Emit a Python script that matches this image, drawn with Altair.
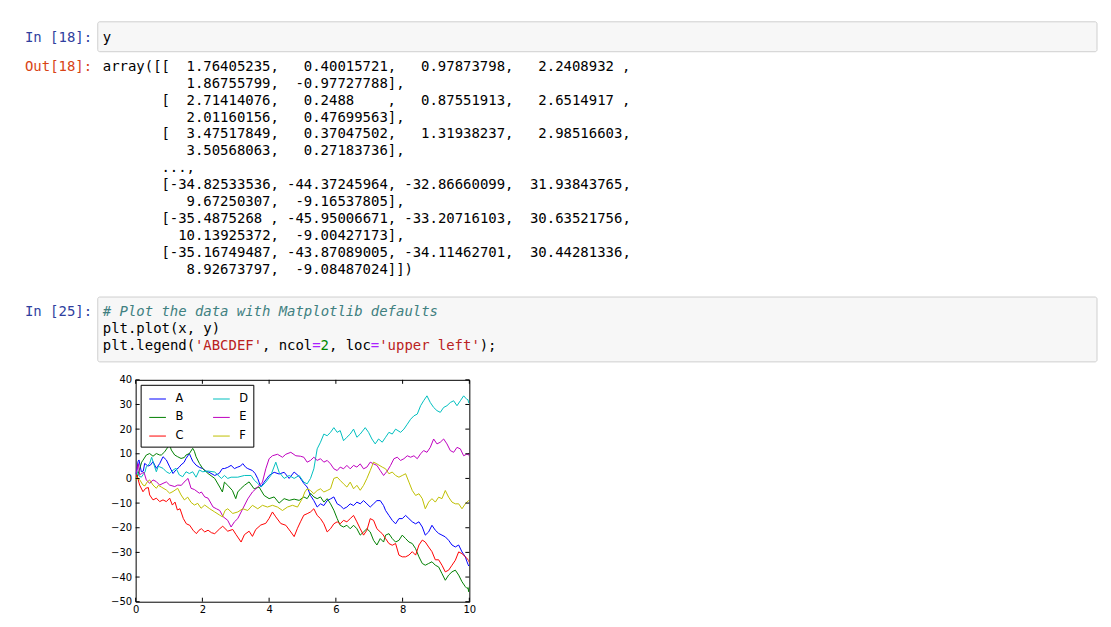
import re
import altair as alt
import pandas as pd

# ---------------- line chart data ----------------
series_names = ["A", "B", "C", "D", "E", "F"]
series_colors = ["#0000ff", "#008000", "#ff0000", "#00bfbf", "#bf00bf", "#bfbf00"]

A_x = [0.00, 0.02, 0.04, 0.07, 0.10, 0.17, 0.23, 0.27, 0.37, 0.45, 0.52, 0.62, 0.72, 0.82, 0.92, 1.02, 1.12, 1.21, 1.30, 1.36,
       1.45, 1.51, 1.61, 1.66, 1.71, 1.81, 1.91, 2.01, 2.10, 2.20, 2.37, 2.50, 2.60, 2.66, 2.76, 2.86, 2.96, 3.06, 3.14, 3.21,
       3.30, 3.36, 3.50, 3.58, 3.66, 3.75, 3.85, 4.00, 4.15, 4.30, 4.45, 4.60, 4.75, 4.90, 5.04, 5.14, 5.24, 5.34, 5.44, 5.54,
       5.64, 5.74, 5.84, 5.94, 6.04, 6.13, 6.23, 6.33, 6.43, 6.53, 6.63, 6.73, 6.83, 6.93, 7.03, 7.13, 7.23, 7.33, 7.43, 7.49,
       7.59, 7.69, 7.79, 7.89, 7.99, 8.09, 8.19, 8.29, 8.39, 8.49, 8.59, 8.68, 8.78, 8.88, 8.98, 9.08, 9.18, 9.28, 9.38, 9.48,
       9.58, 9.68, 9.78, 9.88, 9.93, 9.96, 9.98, 10.0]
A_y = [1.76, 2.71, 3.48, 6.8, 7.5, 2.7, 3.0, 6.1, 5.0, 5.5, 6.8, 4.1, 6.0, 8.8, 7.5, 4.7, 2.0, 3.5, 4.5, 5.5,
       6.5, 8.1, 10.1, 8.5, 7.0, 5.4, 4.5, 4.0, 3.0, 2.5, 1.2, 2.0, 4.0, 4.0, 4.5, 5.3, 4.0, 4.6, 5.0, 6.0,
       4.5, 4.0, 3.2, 2.0, -0.1, -3.5, -1.5, 1.2, 2.5, 1.8, 2.5, 0.0, 2.6, 0.8, -2.0, -3.5, -6.9, -9.0, -11.6, -10.3,
       -11.0, -9.0, -8.3, -7.5, -10.3, -11.0, -12.3, -11.6, -10.3, -11.0, -9.6, -10.3, -9.0, -10.3, -11.6, -10.3, -9.0, -9.0, -11.0, -13.0,
       -15.0, -17.0, -18.4, -16.3, -16.3, -15.0, -16.3, -17.6, -18.4, -17.6, -19.7, -23.0, -21.7, -19.0, -21.0, -22.3, -23.0, -23.7, -25.1, -27.0,
       -27.8, -27.0, -29.8, -31.8, -33.8, -34.83, -35.49, -35.17]

B_x = [0.00, 0.02, 0.04, 0.10, 0.18, 0.22, 0.32, 0.42, 0.52, 0.62, 0.72, 0.77, 0.87, 0.97, 1.02, 1.07, 1.17, 1.26, 1.36, 1.46,
       1.51, 1.61, 1.71, 1.76, 1.81, 1.91, 2.01, 2.17, 2.37, 2.52, 2.60, 2.66, 2.76, 2.90, 3.00, 3.06, 3.16, 3.26, 3.40, 3.55,
       3.70, 3.85, 4.00, 4.15, 4.30, 4.45, 4.60, 4.75, 4.90, 5.04, 5.14, 5.24, 5.34, 5.44, 5.54, 5.64, 5.74, 5.84, 5.94, 6.04,
       6.13, 6.23, 6.33, 6.43, 6.53, 6.63, 6.73, 6.83, 6.93, 7.03, 7.13, 7.23, 7.33, 7.43, 7.49, 7.59, 7.69, 7.79, 7.89, 7.99,
       8.09, 8.19, 8.29, 8.39, 8.49, 8.59, 8.68, 8.78, 8.88, 8.98, 9.08, 9.18, 9.28, 9.38, 9.48, 9.58, 9.68, 9.78, 9.88, 9.93,
       9.96, 9.98, 10.0]
B_y = [0.40, 0.25, 0.37, 3.0, 6.6, 7.4, 9.5, 10.1, 9.0, 10.1, 9.5, 9.5, 10.8, 12.8, 13.5, 11.5, 9.5, 8.8, 8.1, 8.5,
       9.5, 10.1, 12.2, 11.0, 8.8, 6.1, 4.0, 2.0, 0.0, -3.5, -5.5, -1.5, -2.8, -4.9, -8.2, -5.5, -4.0, -2.8, -1.4, -4.2,
       -3.5, -6.9, -8.2, -7.5, -10.0, -8.2, -8.9, -8.4, -8.9, -7.5, -8.2, -6.0, -7.5, -8.2, -7.5, -9.6, -8.2, -10.3, -12.9, -16.3,
       -19.0, -19.7, -19.0, -20.4, -19.0, -20.4, -23.0, -21.7, -20.4, -21.7, -25.1, -27.0, -24.4, -25.8, -23.0, -22.4, -24.4, -25.8, -25.1, -23.0,
       -24.4, -25.8, -26.4, -28.5, -31.8, -34.5, -35.2, -34.5, -33.8, -35.2, -35.9, -38.6, -41.3, -39.2, -37.9, -37.2, -39.2, -41.9, -43.9, -44.6,
       -44.37, -45.95, -43.87]

C_x = [0.00, 0.02, 0.04, 0.12, 0.22, 0.30, 0.38, 0.42, 0.52, 0.58, 0.62, 0.72, 0.82, 0.92, 1.02, 1.10, 1.18, 1.25, 1.33, 1.43,
       1.52, 1.62, 1.72, 1.82, 1.90, 1.97, 2.07, 2.17, 2.27, 2.37, 2.52, 2.61, 2.76, 2.91, 3.01, 3.16, 3.26, 3.40, 3.50, 3.60,
       3.75, 3.90, 4.00, 4.10, 4.20, 4.35, 4.50, 4.65, 4.75, 4.85, 4.94, 5.04, 5.14, 5.24, 5.34, 5.44, 5.54, 5.64, 5.74, 5.84,
       5.94, 6.04, 6.13, 6.23, 6.33, 6.43, 6.53, 6.63, 6.73, 6.83, 6.93, 7.03, 7.13, 7.23, 7.33, 7.39, 7.49, 7.59, 7.69, 7.79,
       7.89, 7.99, 8.09, 8.19, 8.29, 8.39, 8.49, 8.59, 8.68, 8.78, 8.88, 8.98, 9.08, 9.18, 9.28, 9.38, 9.48, 9.58, 9.68, 9.78,
       9.88, 9.96, 9.98, 10.0]
C_y = [0.98, 0.88, 1.32, -2.7, -5.4, -4.0, -3.7, -6.7, -8.7, -8.3, -8.0, -9.4, -8.7, -9.4, -8.0, -10.8, -9.6, -12.8, -12.3, -16.3,
       -18.4, -19.0, -21.0, -22.4, -21.0, -20.4, -21.7, -21.0, -22.0, -22.4, -20.4, -19.4, -21.4, -20.7, -22.8, -25.8, -22.8, -21.4, -23.5, -20.7,
       -18.9, -18.2, -16.2, -13.6, -15.6, -18.3, -19.0, -21.7, -23.6, -20.2, -17.6, -14.9, -14.3, -13.6, -12.3, -15.0, -16.3, -18.4, -21.7, -20.4,
       -18.4, -17.6, -18.4, -17.0, -17.6, -16.3, -15.0, -17.6, -20.4, -23.0, -21.0, -16.3, -17.0, -20.4, -21.7, -22.4, -24.4, -26.4, -27.1, -26.4,
       -31.1, -31.8, -31.8, -31.1, -29.7, -31.1, -27.0, -25.0, -25.8, -27.8, -29.7, -33.0, -33.0, -35.2, -37.9, -37.2, -35.2, -33.2, -29.8, -30.5,
       -31.8, -32.87, -33.21, -34.11]

D_x = [0.00, 0.02, 0.04, 0.10, 0.17, 0.22, 0.28, 0.32, 0.42, 0.48, 0.52, 0.62, 0.68, 0.72, 0.82, 0.92, 1.02, 1.12, 1.21, 1.31,
       1.41, 1.51, 1.61, 1.71, 1.81, 1.91, 2.01, 2.17, 2.37, 2.57, 2.66, 2.76, 2.86, 3.06, 3.26, 3.46, 3.56, 3.66, 3.76, 3.90,
       4.05, 4.20, 4.30, 4.45, 4.60, 4.75, 4.90, 5.04, 5.14, 5.24, 5.34, 5.44, 5.54, 5.64, 5.74, 5.84, 5.94, 6.04, 6.13, 6.23,
       6.33, 6.43, 6.53, 6.63, 6.73, 6.88, 6.98, 7.08, 7.18, 7.28, 7.39, 7.49, 7.59, 7.69, 7.79, 7.94, 8.04, 8.14, 8.24, 8.34,
       8.44, 8.54, 8.63, 8.73, 8.83, 8.93, 9.03, 9.13, 9.23, 9.33, 9.43, 9.53, 9.63, 9.73, 9.83, 9.93, 9.96, 9.98, 10.0]
D_y = [2.24, 2.65, 2.99, 1.0, 0.5, 1.5, 2.6, 4.7, 6.1, 8.6, 6.8, 2.7, 5.0, 4.7, 4.1, 2.7, 2.0, 3.4, 4.1, 1.4,
       0.7, 2.7, 2.0, 2.7, 0.5, 3.4, 2.7, 3.0, 2.6, 0.0, 1.2, 0.0, 0.5, 0.5, 1.2, 1.2, -0.8, -2.0, -3.5, -1.5,
       1.2, 6.6, 2.5, 0.0, 1.2, 0.0, 1.2, -1.5, -2.2, 0.0, 3.9, 12.0, 14.7, 18.0, 17.3, 18.7, 20.6, 18.7, 19.4, 15.3,
       16.7, 18.0, 20.0, 16.7, 18.0, 20.6, 18.7, 16.0, 14.0, 16.0, 14.7, 16.7, 18.7, 18.0, 20.0, 18.7, 20.0, 22.0, 24.0, 25.4,
       26.1, 29.5, 31.5, 33.5, 30.8, 28.8, 27.5, 26.8, 28.8, 29.5, 30.8, 31.5, 29.5, 31.5, 33.5, 32.0, 31.94, 30.64, 30.44]

E_x = [0.00, 0.02, 0.04, 0.08, 0.12, 0.18, 0.25, 0.32, 0.42, 0.52, 0.62, 0.72, 0.82, 0.92, 1.02, 1.17, 1.26, 1.37, 1.45, 1.57,
       1.66, 1.76, 1.91, 1.97, 2.07, 2.17, 2.32, 2.42, 2.52, 2.62, 2.76, 2.86, 2.96, 3.06, 3.21, 3.36, 3.50, 3.66, 3.80, 3.90,
       4.00, 4.10, 4.25, 4.40, 4.50, 4.65, 4.80, 4.94, 5.04, 5.14, 5.24, 5.34, 5.44, 5.54, 5.64, 5.74, 5.84, 5.94, 6.04, 6.13,
       6.23, 6.33, 6.43, 6.53, 6.63, 6.73, 6.83, 6.93, 7.03, 7.13, 7.23, 7.33, 7.43, 7.54, 7.64, 7.74, 7.84, 7.94, 8.04, 8.14,
       8.24, 8.34, 8.44, 8.54, 8.63, 8.73, 8.83, 8.93, 9.03, 9.13, 9.23, 9.33, 9.43, 9.53, 9.63, 9.73, 9.83, 9.93, 9.96, 9.98,
       10.0]
E_y = [1.87, 2.01, 3.51, 6.0, 1.5, 2.0, 2.5, -0.6, -2.0, -0.6, -1.3, -2.7, -2.0, -1.4, -2.7, -3.3, -2.7, -2.8, -1.5, 0.0,
       -4.0, -4.5, -6.0, -5.5, -7.5, -8.0, -11.6, -12.3, -13.0, -15.5, -17.0, -19.7, -17.6, -16.3, -12.3, -8.3, -5.5, -3.5, -1.5, 3.9,
       8.0, 9.2, 9.8, 8.6, 9.8, 10.6, 9.2, 9.0, 8.6, 6.6, 7.3, 8.6, 7.3, 8.0, 6.6, 7.3, 5.9, 3.9, 3.2, 4.6,
       3.9, 5.3, 3.9, 5.3, 4.6, 5.9, 3.9, 4.6, 6.6, 5.9, 5.3, 3.2, 1.2, 3.0, 5.3, 8.0, 8.6, 7.3, 8.0, 9.2,
       8.6, 9.2, 8.0, 10.0, 11.3, 10.6, 12.6, 16.0, 14.0, 14.7, 16.0, 14.0, 11.3, 10.6, 12.6, 12.0, 9.2, 9.9, 9.67, 10.14,
       8.93]

F_x = [0.00, 0.02, 0.04, 0.12, 0.22, 0.28, 0.34, 0.42, 0.52, 0.62, 0.68, 0.77, 0.92, 1.02, 1.12, 1.26, 1.36, 1.46, 1.56, 1.66,
       1.76, 1.86, 1.96, 2.07, 2.22, 2.37, 2.52, 2.60, 2.68, 2.76, 2.91, 3.06, 3.21, 3.36, 3.50, 3.66, 3.80, 3.95, 4.10, 4.25,
       4.40, 4.55, 4.70, 4.85, 5.00, 5.07, 5.14, 5.24, 5.34, 5.44, 5.54, 5.64, 5.74, 5.84, 5.94, 6.04, 6.13, 6.23, 6.33, 6.43,
       6.53, 6.63, 6.73, 6.83, 6.93, 7.03, 7.13, 7.23, 7.39, 7.49, 7.59, 7.69, 7.79, 7.89, 7.99, 8.09, 8.19, 8.29, 8.39, 8.49,
       8.59, 8.68, 8.78, 8.88, 8.98, 9.08, 9.18, 9.28, 9.38, 9.48, 9.58, 9.68, 9.78, 9.88, 9.96, 9.98, 10.0]
F_y = [-0.98, 0.48, 0.27, -0.5, -2.7, -3.0, -1.5, -0.6, -2.7, -4.0, -2.8, -3.5, -4.7, -6.0, -5.3, -4.0, -6.7, -8.7, -7.6, -9.7,
       -10.8, -10.1, -12.1, -10.8, -12.3, -13.6, -14.9, -15.6, -13.0, -12.3, -14.2, -13.6, -12.3, -13.0, -10.9, -12.3, -10.9, -11.6, -10.9, -11.6,
       -13.0, -11.6, -10.9, -11.6, -8.0, -5.5, -4.2, -4.9, -6.2, -4.9, -4.2, -5.5, -4.9, -4.2, 0.0, 0.5, -0.8, -2.2, -3.5, -1.5,
       -4.2, -2.8, -4.8, -2.8, 0.0, 3.2, 6.6, 5.9, 4.6, 3.9, 1.9, 2.6, 1.2, 0.5, 1.2, 1.9, -1.5, -4.9, -6.9, -6.2,
       -8.2, -12.3, -9.6, -8.2, -9.6, -7.6, -8.2, -4.9, -7.6, -9.6, -10.3, -10.3, -12.3, -10.3, -9.17, -9.00, -9.08]

x_ticks = [0, 2, 4, 6, 8, 10]
y_ticks = [-50, -40, -30, -20, -10, 0, 10, 20, 30, 40]

# ---------------- notebook text ----------------
in18_prompt = "In [18]:"
in18_code = "y"
out18_prompt = "Out[18]:"
out18_lines = [
    "array([[  1.76405235,   0.40015721,   0.97873798,   2.2408932 ,",
    "          1.86755799,  -0.97727788],",
    "       [  2.71414076,   0.2488    ,   0.87551913,   2.6514917 ,",
    "          2.01160156,   0.47699563],",
    "       [  3.47517849,   0.37047502,   1.31938237,   2.98516603,",
    "          3.50568063,   0.27183736],",
    "       ...,",
    "       [-34.82533536, -44.37245964, -32.86660099,  31.93843765,",
    "          9.67250307,  -9.16537805],",
    "       [-35.4875268 , -45.95006671, -33.20716103,  30.63521756,",
    "         10.13925372,  -9.00427173],",
    "       [-35.16749487, -43.87089005, -34.11462701,  30.44281336,",
    "          8.92673797,  -9.08487024]])",
]
in25_prompt = "In [25]:"
in25_code = [
    [("# Plot the data with Matplotlib defaults", "#408080")],
    [("plt.plot(x, y)", "#000000")],
    [("plt.legend(", "#000000"), ("'ABCDEF'", "#BA2121"), (", ncol", "#000000"), ("=", "#AA22FF"),
     ("2", "#008800"), (", loc", "#000000"), ("=", "#AA22FF"), ("'upper left'", "#BA2121"), (");", "#000000")],
]

# layout constants (pixels inside the notebook panel)
NB_W, NB_H = 1095, 371.5
CW = 8.4            # monospace character advance
PROMPT_X = 14
CODE_X = 92
ROW_H = 17
IN18_Y = 29
OUT18_Y = 58
IN25_Y = 304

tok_rows = []


def add_tokens(text, x0, y, color, italic=False):
    for m in re.finditer(r"\S+", text):
        tok_rows.append(dict(x=x0 + m.start() * CW, y=y, t=m.group(), c=color,
                             it=italic))


add_tokens(in18_prompt, PROMPT_X, IN18_Y, "#303F9F")
add_tokens(in18_code, CODE_X, IN18_Y, "#000000")
add_tokens(out18_prompt, PROMPT_X, OUT18_Y, "#D84315")
for k, line in enumerate(out18_lines):
    add_tokens(line, CODE_X, OUT18_Y + k * ROW_H, "#000000")
add_tokens(in25_prompt, PROMPT_X, IN25_Y, "#303F9F")
for k, segs in enumerate(in25_code):
    col = 0
    for text, color in segs:
        add_tokens(text, CODE_X + col * CW, IN25_Y + k * ROW_H, color,
                   italic=text.startswith("#"))
        col += len(text)

tok = pd.DataFrame(tok_rows)
boxes = pd.DataFrame({"x": [87, 87], "x2": [1089, 1089], "y": [13, 289], "y2": [43, 354]})

nbx = alt.Scale(domain=[0, NB_W], nice=False, zero=False)
nby = alt.Scale(domain=[0, NB_H], nice=False, zero=False, reverse=True)

box_layer = alt.Chart(boxes).mark_rect(fill="#f7f7f7", stroke="#cfcfcf", strokeWidth=1, cornerRadius=2).encode(
    x=alt.X("x:Q", scale=nbx, axis=None), x2="x2:Q",
    y=alt.Y("y:Q", scale=nby, axis=None), y2="y2:Q")


def text_layer(df, italic):
    return alt.Chart(df).mark_text(align="left", baseline="middle", font="DejaVu Sans Mono", fontSize=14,
                                   fontStyle="italic" if italic else "normal").encode(
        x=alt.X("x:Q", scale=nbx, axis=None),
        y=alt.Y("y:Q", scale=nby, axis=None),
        text="t:N",
        color=alt.Color("c:N", scale=None))


nb = alt.layer(box_layer, text_layer(tok[~tok.it], False), text_layer(tok[tok.it], True)).properties(
    width=NB_W, height=NB_H)

# ---------------- matplotlib-style line chart ----------------
frames = []
for name, xs, ys in zip(series_names, [A_x, B_x, C_x, D_x, E_x, F_x], [A_y, B_y, C_y, D_y, E_y, F_y]):
    assert len(xs) == len(ys), name
    frames.append(pd.DataFrame({"s": name, "x": xs, "y": ys}))
df = pd.concat(frames, ignore_index=True)

xs_ = alt.Scale(domain=[0, 10], nice=False, zero=False)
ys_ = alt.Scale(domain=[-50, 40], nice=False, zero=False)

x_axis = alt.Axis(values=x_ticks, ticks=False, domain=False, grid=False, labelFont="DejaVu Sans", labelFontSize=10,
                  labelColor="black", labelPadding=3, labelFlush=False, labelOverlap=False, title=None)
y_axis = alt.Axis(values=y_ticks, ticks=False, domain=False, grid=False, labelFont="DejaVu Sans", labelFontSize=10,
                  labelColor="black", labelPadding=4, labelFlush=False, labelOverlap=False, labelBound=False,
                  title=None)

lines = alt.Chart(df).mark_line(strokeWidth=1, clip=True).encode(
    x=alt.X("x:Q", scale=xs_, axis=x_axis),
    y=alt.Y("y:Q", scale=ys_, axis=y_axis),
    color=alt.Color("s:N", scale=alt.Scale(domain=series_names, range=series_colors),
                    legend=alt.Legend(title=None, orient="top-left", offset=5, columns=2, symbolType="stroke",
                                      symbolSize=280, symbolStrokeWidth=1, labelFont="DejaVu Sans",
                                      labelFontSize=11.5, labelColor="black", labelOffset=9, columnPadding=25,
                                      rowPadding=3.7, padding=5, symbolOffset=3, strokeColor="black",
                                      fillColor="white", cornerRadius=0)),
)

xt = pd.DataFrame({"v": x_ticks})
yt = pd.DataFrame({"v": y_ticks})
TL = 4
tick_bottom = alt.Chart(xt).mark_rule(color="black", strokeWidth=1, y2Offset=-TL).encode(
    x=alt.X("v:Q", scale=xs_, axis=x_axis), y=alt.datum(-50, scale=ys_, axis=y_axis), y2=alt.datum(-50))
tick_top = alt.Chart(xt).mark_rule(color="black", strokeWidth=1, y2Offset=TL).encode(
    x=alt.X("v:Q", scale=xs_, axis=x_axis), y=alt.datum(40, scale=ys_, axis=y_axis), y2=alt.datum(40))
tick_left = alt.Chart(yt).mark_rule(color="black", strokeWidth=1, x2Offset=TL).encode(
    y=alt.Y("v:Q", scale=ys_, axis=y_axis), x=alt.datum(0, scale=xs_, axis=x_axis), x2=alt.datum(0))
tick_right = alt.Chart(yt).mark_rule(color="black", strokeWidth=1, x2Offset=-TL).encode(
    y=alt.Y("v:Q", scale=ys_, axis=y_axis), x=alt.datum(10, scale=xs_, axis=x_axis), x2=alt.datum(10))

plot = alt.layer(lines, tick_bottom, tick_top, tick_left, tick_right).properties(
    width=334.6, height=222.5, view=alt.ViewBackground(stroke="black", strokeWidth=1))

spacer = alt.Chart(pd.DataFrame({"a": [0]})).mark_point(opacity=0).encode(
    x=alt.value(0), y=alt.value(0)).properties(width=124.7, height=222.5)

bottom = alt.hconcat(spacer, plot, spacing=0, bounds="flush").resolve_scale(
    color="independent").resolve_legend(color="independent")
chart = alt.vconcat(nb, bottom, spacing=0, bounds="flush").resolve_scale(
    color="independent").resolve_legend(color="independent").properties(
    padding=0, background="white").configure_view(stroke=None)

chart.save("out.html", embed_options={"renderer": "svg", "actions": False})
